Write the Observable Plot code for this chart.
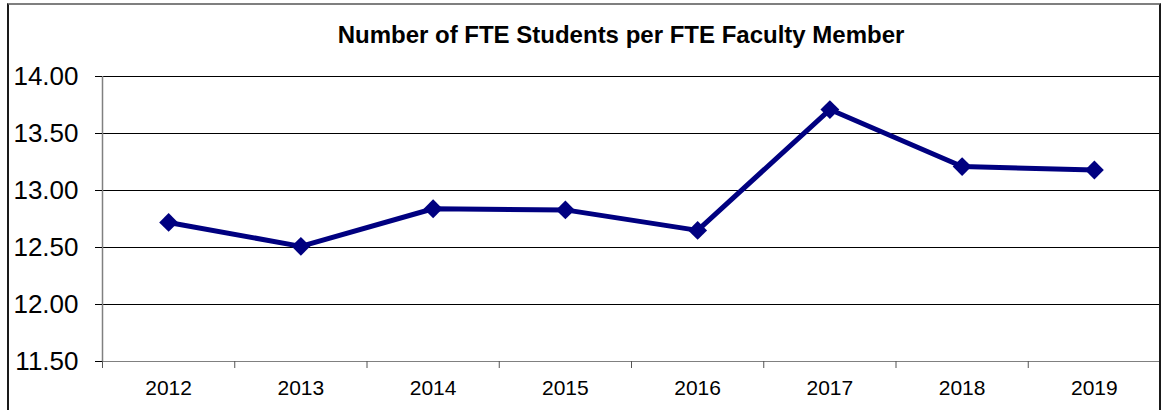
<!DOCTYPE html>
<html>
<head>
<meta charset="utf-8">
<script src="https://cdn.jsdelivr.net/npm/d3@7"></script>
<script src="https://cdn.jsdelivr.net/npm/@observablehq/plot@0.6"></script>
<style>
  html, body { margin: 0; padding: 0; background: #fff; }
  #wrap { position: relative; width: 1164px; height: 410px; overflow: hidden; font-family: "Liberation Sans", Arial, sans-serif; }
  #title { height: 60px; position: relative; }
  #title span { position: absolute; left: 621px; top: 23px; transform: translateX(-50%); white-space: nowrap;
    font-size: 24px; line-height: 24px; font-weight: bold; color: #000; }
  #frame { position: absolute; left: 7px; top: 3px; width: 1150px; height: 430px;
    border: 2px solid #1a1a1a; border-top-color: #7f7f7f; pointer-events: none; }
  svg { display: block; overflow: visible; }
</style>
</head>
<body>
<div id="wrap">
  <div id="title"><span></span></div>
  <div id="chart"></div>
  <div id="frame"></div>
</div>
<script>
const title = "Number of FTE Students per FTE Faculty Member";
const years = [2012, 2013, 2014, 2015, 2016, 2017, 2018, 2019];
const values = [12.72, 12.51, 12.84, 12.83, 12.65, 13.71, 13.21, 13.18];
const yTicks = [11.5, 12, 12.5, 13, 13.5, 14];
const yGrid = [12, 12.5, 13, 13.5, 14];
const bandEdges = [2011.5, 2012.5, 2013.5, 2014.5, 2015.5, 2016.5, 2017.5, 2018.5, 2019.5];

document.querySelector("#title span").textContent = title;

const data = years.map((year, i) => ({year, value: values[i]}));
const navy = "#000080";

const chart = Plot.plot({
  width: 1164,
  height: 350,
  marginLeft: 102,
  marginRight: 4,
  marginTop: 16,
  marginBottom: 49,
  style: {fontFamily: '"Liberation Sans", Arial, sans-serif', background: "transparent", color: "#000"},
  x: {domain: [2011.5, 2019.5], axis: null, label: null},
  y: {domain: [11.5, 14], axis: null, label: null},
  marks: [
    Plot.gridY(yGrid, {stroke: "#000", strokeOpacity: 1, strokeWidth: 1}),
    Plot.ruleY([11.5], {stroke: "#808080", strokeWidth: 1.2}),
    Plot.axisX({ticks: bandEdges, tickSize: 7, tickFormat: () => "", stroke: "#555", label: null}),
    Plot.ruleX([2011.5], {y1: 11.5, y2: 14, stroke: "#808080", strokeWidth: 1.5}),
    Plot.axisX({ticks: years, tickSize: 0, tickPadding: 19, tickFormat: d => String(d), fontSize: 21, fill: "#000", label: null}),
    Plot.axisY({ticks: yTicks, tickSize: 7, tickPadding: 17, tickFormat: d3.format(".2f"), fontSize: 26, fill: "#000", stroke: "#000", label: null}),
    Plot.line(data, {x: "year", y: "value", stroke: navy, strokeWidth: 5}),
    Plot.dot(data, {x: "year", y: "value", symbol: "diamond2", r: 8.5, fill: navy, stroke: "none"})
  ]
});
document.getElementById("chart").appendChild(chart);
</script>
</body>
</html>
